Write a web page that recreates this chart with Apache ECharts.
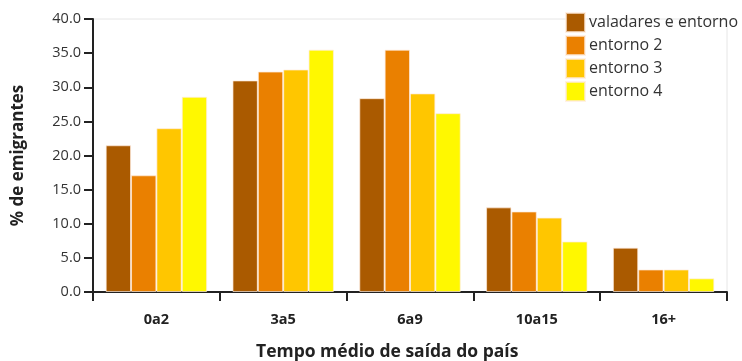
<!DOCTYPE html>
<html><head><meta charset="utf-8">
<script src="https://cdn.jsdelivr.net/npm/echarts@6/dist/echarts.min.js"></script>
<style>html,body{margin:0;padding:0;background:#fff}#c{width:742px;height:361px}</style>
</head><body><div id="c"></div>
<script>
var categories = ['0a2', '3a5', '6a9', '10a15', '16+'];
var seriesNames = ['valadares e entorno', 'entorno 2', 'entorno 3', 'entorno 4'];
var s1 = [21.5, 31.0, 28.4, 12.4, 6.5];
var s2 = [17.1, 32.3, 35.5, 11.8, 3.3];
var s3 = [24.0, 32.6, 29.1, 10.9, 3.3];
var s4 = [28.6, 35.5, 26.2, 7.4, 2.0];
var colors = ['#AA5A00', '#EA8000', '#FFC600', '#FFF800'];
var font = '"Open Sans", sans-serif';

var data = [s1, s2, s3, s4];
var chart = echarts.init(document.getElementById('c'));
chart.setOption({
  animation: false,
  title: {
    text: 'Tempo médio de saída do país',
    left: 251, top: 338,
    textStyle: {fontFamily: font, fontSize: 17.5, fontWeight: 'bold', color: '#222'}
  },
  legend: {
    left: 565, top: 12, orient: 'vertical',
    itemWidth: 19, itemHeight: 19, itemGap: 2,
    icon: 'rect', padding: 0,
    textStyle: {fontFamily: font, fontSize: 16, lineHeight: 19, color: '#333', padding: [0, 0, 0, -1]},
    data: seriesNames
  },
  grid: {left: 93, right: 15, top: 19, bottom: 69, show: true, borderColor: '#e6e6e6', borderWidth: 1},
  xAxis: {
    type: 'category', data: categories,
    axisLine: {lineStyle: {color: '#222', width: 2}},
    axisTick: {show: true, length: 9, lineStyle: {color: '#222', width: 2}},
    axisLabel: {fontFamily: font, fontSize: 14.5, fontWeight: 'bold', color: '#222', margin: 20}
  },
  yAxis: {
    type: 'value', min: 0, max: 40, interval: 5,
    name: '% de emigrantes', nameLocation: 'middle', nameGap: 66,
    nameTextStyle: {fontFamily: font, fontSize: 17, fontWeight: 'bold', color: '#222'},
    axisLine: {show: true, lineStyle: {color: '#222', width: 2}},
    axisTick: {show: true, length: 9, lineStyle: {color: '#222', width: 2}},
    axisLabel: {fontFamily: font, fontSize: 14.5, color: '#333', margin: 12,
      formatter: function (v) { return v.toFixed(1); }},
    splitLine: {show: false}
  },
  series: seriesNames.map(function (n, i) {
    return {
      name: n, type: 'bar', data: data[i],
      barGap: '0%', barCategoryGap: '20%',
      itemStyle: {color: colors[i], borderColor: 'rgba(255,235,220,0.7)', borderWidth: 1}
    };
  })
});
</script></body></html>
